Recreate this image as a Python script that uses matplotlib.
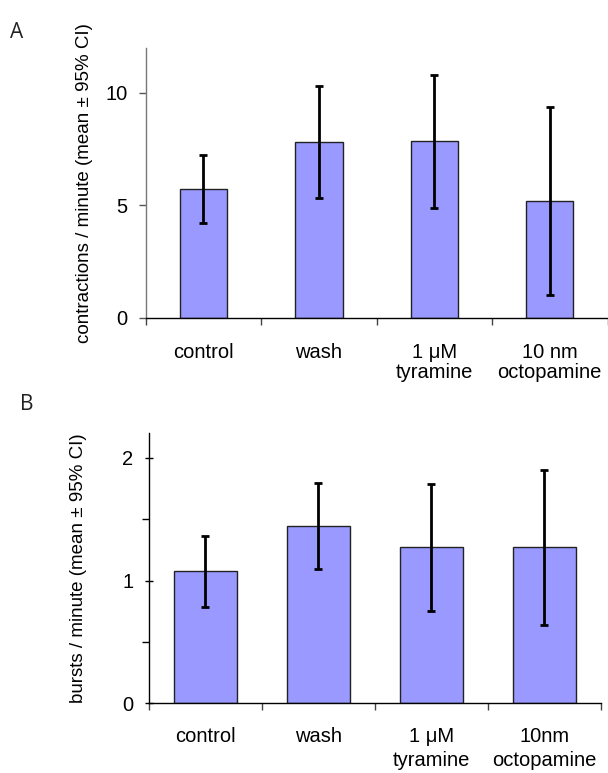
import numpy as np
import matplotlib
matplotlib.use('Agg')
import matplotlib.pyplot as plt

plt.rcParams['font.family'] = ['Liberation Sans', 'DejaVu Sans']

# panel A: contractions per minute
labelsA = ['control', 'wash', '1 μM\ntyramine', '10 nm\noctopamine']
meanA = [5.73, 7.82, 7.85, 5.21]
ciA = [1.53, 2.49, 2.96, 4.17]

# panel B: bursts per minute
labelsB = ['control', 'wash', '1 μM\ntyramine', '10nm\noctopamine']
meanB = [1.076, 1.443, 1.271, 1.271]
ciB = [0.29, 0.35, 0.52, 0.633]

barColor = '#9999ff'

fig = plt.figure(figsize=(6.08, 7.73), dpi=100)
axA = fig.add_axes([145.7/608, 1-318/773, 461.8/608, 270/773])
axB = fig.add_axes([148.7/608, 1-703.3/773, 452/608, 269.9/773])

def draw(ax, labels, means, cis, width, ymax, ylabel, spineColor, pad, spacing):
    x = np.arange(len(labels))
    ax.bar(x, means, width=width, color=barColor, edgecolor='#222222', linewidth=1.0, zorder=2)
    ax.errorbar(x, means, yerr=cis, fmt='none', ecolor='black', elinewidth=2.0,
                capsize=2.8, capthick=2.0, zorder=3)
    ax.set_xlim(-0.5, len(labels)-0.5)
    ax.set_ylim(0, ymax)
    ax.spines['top'].set_visible(False)
    ax.spines['right'].set_visible(False)
    ax.spines['left'].set_color(spineColor)
    ax.spines['left'].set_linewidth(1.0)
    ax.spines['bottom'].set_linewidth(1.0)
    # category labels between boundary ticks
    ax.set_xticks(np.arange(len(labels)+1)-0.5)
    ax.set_xticklabels([])
    ax.set_xticks(x, minor=True)
    ax.set_xticklabels(labels, minor=True, fontsize=14.5, linespacing=spacing)
    ax.tick_params(axis='x', which='major', length=5, width=1, direction='out', color='#444444')
    ax.tick_params(axis='x', which='minor', length=0, pad=pad)
    ax.set_ylabel(ylabel, fontsize=13.5)
    ax.tick_params(axis='y', labelsize=14.5)

draw(axA, labelsA, meanA, ciA, 0.41, 12, 'contractions / minute (mean ± 95% CI)', '#777777', 18, 1.1)
axA.set_yticks([0, 5, 10])
axA.tick_params(axis='y', length=5, width=1, direction='out', color='#555555', pad=8)
axA.yaxis.set_label_coords(-0.115, 0.5)

draw(axB, labelsB, meanB, ciB, 0.56, 2.2, 'bursts / minute (mean ± 95% CI)', 'black', 17, 1.33)
axB.set_yticks([0, 1, 2])
axB.set_yticks([0.5, 1.5], minor=True)
axB.tick_params(axis='y', which='major', length=6, width=1, direction='inout', pad=8)
axB.tick_params(axis='y', which='minor', length=5, width=1, direction='out')
axB.yaxis.set_label_coords(-0.137, 0.5)

fig.text(10/608, 1-33/773, 'A', fontsize=15, family=['Open Sans', 'DejaVu Sans'], va='center', color='#222222')
fig.text(20/608, 1-405/773, 'B', fontsize=15, family=['Open Sans', 'DejaVu Sans'], va='center', color='#222222')

fig.savefig('out.png', dpi=100)
